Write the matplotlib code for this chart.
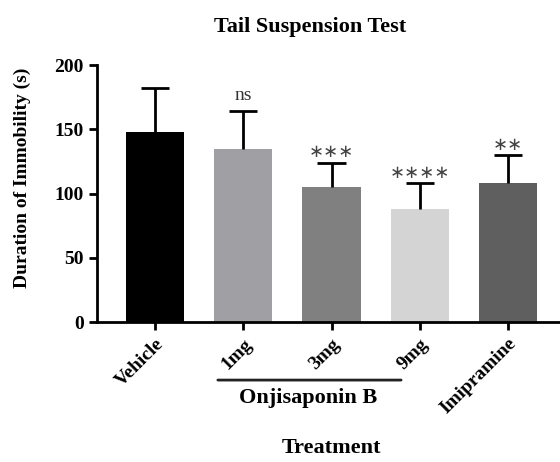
import matplotlib.pyplot as plt

groups = ['Vehicle', '1mg', '3mg', '9mg', 'Imipramine']
means = [148, 135, 105, 88, 108]
sems = [34, 29, 19, 20, 22]
signif = ['', 'ns', '***', '****', '**']
colors = ['#000000', '#a0a0a4', '#808080', '#d4d4d4', '#5f5f5f']

plt.rcParams['font.family'] = ['Liberation Serif', 'DejaVu Serif']
plt.rcParams['font.weight'] = 'bold'

fig = plt.figure(figsize=(5.6, 4.62), dpi=100)
ax = fig.add_axes([0.173, 0.303, 0.827, 0.556])

x = list(range(len(groups)))
tops = [m + s for m, s in zip(means, sems)]
ax.bar(x, means, width=0.66, color=colors, zorder=2)
# upper error bars only (no lower cap)
ax.vlines(x, means, tops, color='black', lw=2, zorder=3)
ax.hlines(tops, [i - 0.16 for i in x], [i + 0.16 for i in x], color='black', lw=2, zorder=3)

for i, (t, lab) in enumerate(zip(tops, signif)):
    if lab == 'ns':
        ax.text(i, t + 6, lab, ha='center', va='bottom', fontsize=14,
                fontweight='normal', color='#333333')
    elif lab:
        ax.text(i, t + 1, lab.replace('*', '\u2217'), ha='center', va='bottom',
                fontsize=13, fontweight='normal', color='#444444', family='DejaVu Sans')

ax.set_xlim(-0.66, 4.59)
ax.set_ylim(0, 200)
ax.set_yticks([0, 50, 100, 150, 200])
ax.spines['top'].set_visible(False)
ax.spines['right'].set_visible(False)
ax.spines['left'].set_linewidth(2)
ax.spines['bottom'].set_linewidth(2)
ax.tick_params(width=2, length=6, labelsize=14)
ax.set_xticks(x)
ax.set_xticklabels(groups, rotation=45, ha='right', rotation_mode='anchor')
for t in ax.get_yticklabels() + ax.get_xticklabels():
    t.set_fontweight('bold')

ax.set_ylabel('Duration of Immobility (s)', fontsize=14, fontweight='bold')
ax.yaxis.set_label_coords(-0.142, 0.56)
fig.text(0.554, 0.942, 'Tail Suspension Test', ha='center', va='center',
         fontsize=16, fontweight='bold')

# group bracket under the doses
ax.annotate('', xy=(0.68, -0.226), xytext=(2.82, -0.226), xycoords=('data', 'axes fraction'),
            arrowprops=dict(arrowstyle='-', lw=2, color='#222222'), annotation_clip=False)
ax.text(1.73, -0.296, 'Onjisaponin B', transform=ax.get_xaxis_transform(), ha='center',
        va='center', fontsize=16, fontweight='bold')
ax.text(2.0, -0.49, 'Treatment', transform=ax.get_xaxis_transform(), ha='center',
        va='center', fontsize=16, fontweight='bold')

fig.savefig('out.png', dpi=100)
